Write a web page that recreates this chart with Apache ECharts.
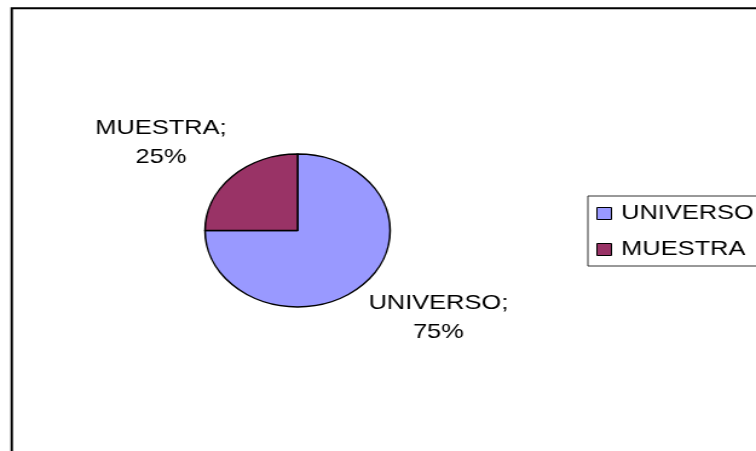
<!DOCTYPE html>
<html>
<head>
<meta charset="utf-8">
<script src="https://cdn.jsdelivr.net/npm/echarts@6/dist/echarts.min.js"></script>
<style>
  html, body { margin: 0; padding: 0; background: #fff; overflow: hidden; }
  #c { width: 625px; height: 451px; transform: scaleX(1.2096); transform-origin: 0 0; }
</style>
</head>
<body>
<div id="c"></div>
<script>
// ---- data ----
const categories = ['UNIVERSO', 'MUESTRA'];
const values = [75, 25];

// ---- layout constants (canvas units, before horizontal stretch) ----
const CX = 246, CY = 230.5, R = 76.5, LABEL_DIST = 83;
const FONT = "'Liberation Sans', Arial, sans-serif";

const chart = echarts.init(document.getElementById('c'), null, { renderer: 'canvas' });

const total = values.reduce((a, b) => a + b, 0);

chart.setOption({
  animation: false,
  backgroundColor: '#ffffff',
  color: ['#9999FF', '#993366'],
  graphic: [{
    type: 'rect',
    shape: { x: 9.7, y: 8.3, width: 800, height: 600 },
    style: { fill: 'none', stroke: '#000', lineWidth: 2 },
    silent: true
  }],
  legend: {
    orient: 'vertical',
    left: 486,
    top: 196,
    padding: [7, 12, 6, 7],
    itemWidth: 12,
    itemHeight: 12,
    itemGap: 15,
    icon: 'rect',
    borderColor: '#333',
    borderWidth: 1,
    itemStyle: { borderColor: '#000', borderWidth: 1 },
    textStyle: { fontSize: 21, color: '#000', fontFamily: FONT, padding: [0, 0, 0, 3] },
    data: categories
  },
  series: [{
    type: 'pie',
    center: [CX, CY],
    radius: R,
    startAngle: 90,
    clockwise: true,
    avoidLabelOverlap: false,
    itemStyle: { borderColor: '#000', borderWidth: 1.5 },
    emphasis: { disabled: true },
    label: {
      show: true,
      position: 'outside',
      alignTo: 'none',
      formatter: '{b};\n{d}%',
      fontSize: 21,
      lineHeight: 29,
      color: '#000',
      fontFamily: FONT,
      align: 'center'
    },
    labelLine: { show: false },
    labelLayout: function (p) {
      let before = 0;
      for (let i = 0; i < p.dataIndex; i++) before += values[i];
      const mid = (before + values[p.dataIndex] / 2) / total * 2 * Math.PI;
      const dx = Math.sin(mid), dy = -Math.cos(mid);
      const w = p.labelRect.width, h = p.labelRect.height;
      return {
        x: CX + dx * LABEL_DIST + Math.sign(dx) * w / 2,
        y: CY + dy * LABEL_DIST + Math.sign(dy) * h / 2,
        align: 'center',
        verticalAlign: 'middle'
      };
    },
    data: categories.map((name, i) => ({ name: name, value: values[i] }))
  }]
});
</script>
</body>
</html>
